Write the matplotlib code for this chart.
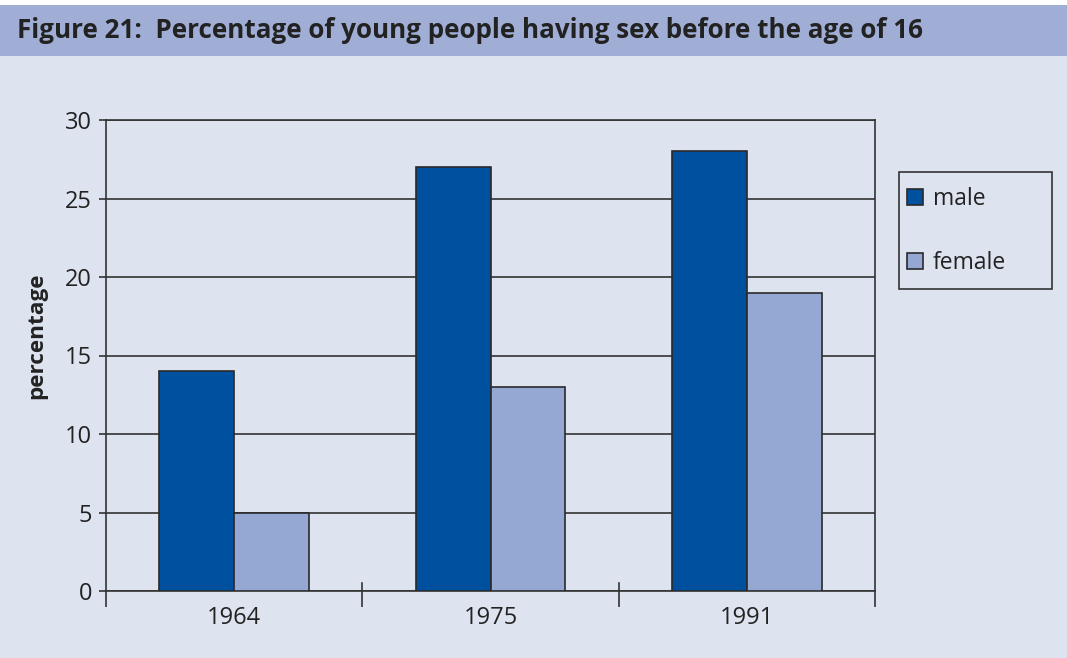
import matplotlib.pyplot as plt
import numpy as np
from matplotlib.patches import Rectangle

years = ["1964", "1975", "1991"]
male = [14, 27, 28]
female = [5, 13, 19]
yticks = [0, 5, 10, 15, 20, 25, 30]

BG = "#DEE3F0"
BAR_BG = "#A0AED6"
MALE_C = "#0050A0"
FEMALE_C = "#95A7D3"
EDGE = "#2a2a2a"
LINE = "#333333"
TXT = "#222222"
W, H = 1067, 658

plt.rcParams["font.family"] = ["Open Sans", "DejaVu Sans"]

fig = plt.figure(figsize=(W / 100, H / 100), dpi=100, facecolor=BG)

# white strip on top, then the title band
fig.patches.append(Rectangle((0, 1 - 5 / H), 1, 5 / H, transform=fig.transFigure,
                             facecolor="white", edgecolor="none", zorder=0))
fig.patches.append(Rectangle((0, 1 - 56 / H), 1, 51 / H, transform=fig.transFigure,
                             facecolor=BAR_BG, edgecolor="none", zorder=0))
fig.text(17 / W, 1 - 30 / H, "Figure 21:  Percentage of young people having sex before the age of 16",
         fontsize=18.7, fontweight="bold", color=TXT, va="center", ha="left")

ax = fig.add_axes([106 / W, 1 - 591 / H, 769 / W, 471 / H])
ax.set_facecolor(BG)

x = np.arange(len(years))
bw = 0.292
ax.bar(x - bw / 2, male, bw, color=MALE_C, edgecolor=EDGE, linewidth=1.2, label="male", zorder=3)
ax.bar(x + bw / 2, female, bw, color=FEMALE_C, edgecolor=EDGE, linewidth=1.2, label="female", zorder=3)

ax.set_xlim(-0.5, len(years) - 0.5)
ax.set_ylim(0, 30)
ax.set_yticks(yticks)
ax.yaxis.grid(True, color=LINE, linewidth=1.2)
ax.set_axisbelow(True)

# category labels between boundary ticks
bounds = np.arange(-0.5, len(years), 1.0)
ax.set_xticks(bounds)
ax.set_xticklabels([])
ax.set_xticks(x, minor=True)
ax.set_xticklabels(years, minor=True, fontsize=17, color=TXT)
ax.tick_params(axis="x", which="major", direction="out", length=11.5, width=1.2, color=LINE)
ax.tick_params(axis="x", which="minor", length=0, pad=11)
ax.tick_params(axis="y", direction="out", length=5, width=1.2, color=LINE,
               labelsize=17, labelcolor=TXT, pad=5)
# short stubs of the boundary ticks poking into the plot
for b in bounds[1:-1]:
    ax.axvline(b, ymin=0, ymax=8 / 471, color=LINE, linewidth=1.2, zorder=2)

for s in ax.spines.values():
    s.set_color(LINE)
    s.set_linewidth(1.2)

fig.text(37 / W, 1 - 336 / H, "percentage", rotation=90, fontsize=16.2, fontweight="bold",
         color=TXT, ha="center", va="center")

# legend frame drawn separately (asymmetric padding in the reference)
fig.patches.append(Rectangle((899 / W, 1 - 289 / H), 153 / W, 117 / H, transform=fig.transFigure,
                             facecolor=BG, edgecolor=LINE, linewidth=1.2, zorder=1))
handles, labels = ax.get_legend_handles_labels()
leg = fig.legend(handles, labels, loc="center left", bbox_to_anchor=(907 / W, 1 - 231 / H),
                 frameon=False, fontsize=16.5, handlelength=0.68, handleheight=0.68,
                 handletextpad=0.45, labelspacing=1.72, borderpad=0, borderaxespad=0)
leg.set_zorder(5)
for t in leg.get_texts():
    t.set_color(TXT)

fig.savefig("out.png", dpi=100, facecolor=BG)
